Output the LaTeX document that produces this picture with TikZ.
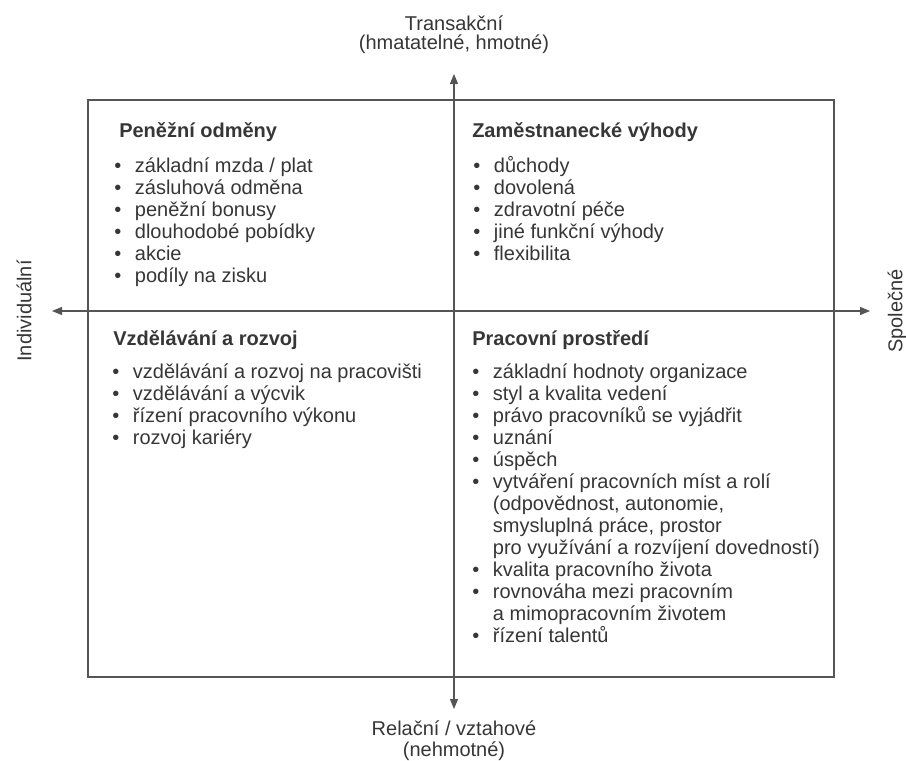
\documentclass[tikz,border=0pt]{standalone}
\usepackage{fontspec}
\setmainfont{Liberation Sans}
\usetikzlibrary{arrows.meta}
\definecolor{ink}{HTML}{363636}
\definecolor{rulec}{HTML}{555555}
\newcommand{\bul}[1]{\makebox[15.5pt][l]{•}#1}
\newcommand{\cont}[1]{\hspace*{15.5pt}#1}
\begin{document}
\begin{tikzpicture}[x=0.75pt,y=-0.75pt,
  txt/.style={font=\fontsize{15}{16.5}\selectfont, text=ink, inner sep=0pt, anchor=base west},
  ttl/.style={txt, font=\fontsize{15}{16.5}\selectfont\bfseries},
  lbl/.style={font=\fontsize{15}{16.5}\selectfont, text=ink, inner sep=0pt, anchor=base},
  axis/.style={draw=rulec, line width=0.8pt},
  frame/.style={draw=rulec, line width=0.8pt}]
\useasboundingbox (0,0) rectangle (906,760);

% frame
\draw[frame] (88,100) rectangle (834,677);

% axes
\coordinate (T) at (454,74);
\coordinate (B) at (454,709);
\coordinate (L) at (52,311);
\coordinate (R) at (870,311);
\draw[axis,{Triangle[length=7.5pt,width=6pt]}-{Triangle[length=7.5pt,width=6pt]}, fill=rulec] (T) -- (B);
\draw[axis,{Triangle[length=7.5pt,width=6pt]}-{Triangle[length=7.5pt,width=6pt]}, fill=rulec] (L) -- (R);

% axis labels
\node[lbl] (top1) at (454,30) {Transakční};
\node[lbl] (top2) at (454,49) {(hmatatelné, hmotné)};
\node[lbl] (bot1) at (454,735) {Relační / vztahové};
\node[lbl] (bot2) at (454,756) {(nehmotné)};
\node[font=\fontsize{15}{16.5}\selectfont, text=ink, inner sep=0pt, rotate=90] (left) at (24,311) {Individuální};
\node[font=\fontsize{15}{16.5}\selectfont, text=ink, inner sep=0pt, rotate=90] (right) at (897,311) {Společné};

% top left
\node[ttl] (tlt) at (119,137) {Peněžní odměny};
\foreach \t [count=\i] in {základní mzda / plat, zásluhová odměna, peněžní bonusy, dlouhodobé pobídky, akcie, podíly na zisku}
  \node[txt] (tl\i) at (114,150+22*\i) {\bul{\t}};

% top right
\node[ttl] (trt) at (472,137) {Zaměstnanecké výhody};
\foreach \t [count=\i] in {důchody, dovolená, zdravotní péče, jiné funkční výhody, flexibilita}
  \node[txt] (tr\i) at (473,150+22*\i) {\bul{\t}};

% bottom left
\node[ttl] (blt) at (113,345) {Vzdělávání a rozvoj};
\foreach \t [count=\i] in {vzdělávání a rozvoj na pracovišti, vzdělávání a výcvik, řízení pracovního výkonu, rozvoj kariéry}
  \node[txt] (bl\i) at (112,356+22*\i) {\bul{\t}};

% bottom right
\node[ttl] (brt) at (472,345) {Pracovní prostředí};
\foreach \t [count=\i] in {\bul{základní hodnoty organizace}, \bul{styl a kvalita vedení}, \bul{právo pracovníků se vyjádřit}, \bul{uznání}, \bul{úspěch}, \bul{vytváření pracovních míst a rolí}, {\cont{(odpovědnost, autonomie,}}, {\cont{smysluplná práce, prostor}}, \cont{pro využívání a rozvíjení dovedností)}, \bul{kvalita pracovního života}, \bul{rovnováha mezi pracovním}, \cont{a mimopracovním životem}, \bul{řízení talentů}}
  \node[txt] (br\i) at (472,356+22*\i) {\t};
\end{tikzpicture}
\end{document}
